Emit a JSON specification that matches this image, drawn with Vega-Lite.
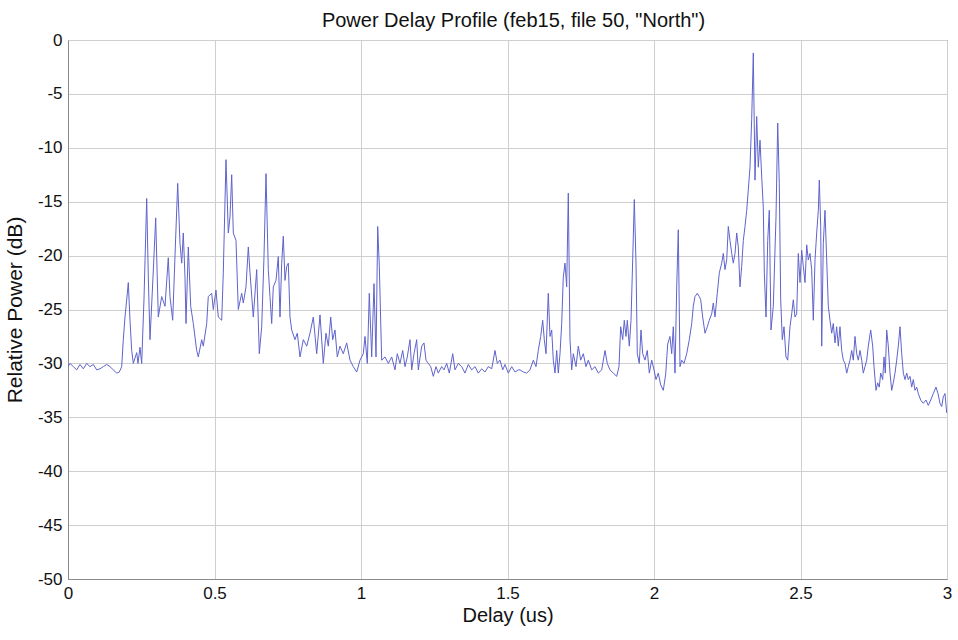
{
  "$schema": "https://vega.github.io/schema/vega-lite/v6.json",
  "width": 879,
  "height": 539,
  "autosize": {"type": "none"},
  "padding": {"left": 68, "top": 40, "right": 11, "bottom": 61},
  "background": "white",
  "title": {
    "text": "Power Delay Profile (feb15, file 50, \"North\")",
    "font": "Liberation Sans",
    "fontSize": 20,
    "fontWeight": "normal",
    "color": "#111111",
    "anchor": "middle",
    "offset": 0,
    "dx": 6
  },
  "config": {
    "view": {"stroke": "#8a8a8a", "strokeWidth": 1},
    "axis": {
      "labelFont": "Liberation Sans",
      "labelFontSize": 17,
      "labelColor": "#111111",
      "titleFont": "Liberation Sans",
      "titleFontSize": 20,
      "titleFontWeight": "normal",
      "titleColor": "#111111",
      "gridColor": "#cfcfcf",
      "gridWidth": 1,
      "domainColor": "#8a8a8a",
      "ticks": false
    }
  },
  "data": {
    "values": [
      {"delay": 0, "power": -30.3}, {"delay": 0.0068, "power": -30.0}, {"delay": 0.0181, "power": -30.3}, {"delay": 0.0297, "power": -30.6},
      {"delay": 0.041, "power": -30.1}, {"delay": 0.0522, "power": -30.5}, {"delay": 0.0638, "power": -30.0}, {"delay": 0.0751, "power": -30.3},
      {"delay": 0.0863, "power": -30.1}, {"delay": 0.098, "power": -30.6}, {"delay": 0.1092, "power": -30.5}, {"delay": 0.1205, "power": -30.3},
      {"delay": 0.1321, "power": -30.1}, {"delay": 0.1433, "power": -30.3}, {"delay": 0.1546, "power": -30.6}, {"delay": 0.1662, "power": -30.9},
      {"delay": 0.1751, "power": -30.8}, {"delay": 0.1833, "power": -30.3}, {"delay": 0.1887, "power": -27.8}, {"delay": 0.1945, "power": -25.7},
      {"delay": 0.2003, "power": -24.1}, {"delay": 0.2058, "power": -22.5}, {"delay": 0.2116, "power": -26.0}, {"delay": 0.2174, "power": -28.8},
      {"delay": 0.2229, "power": -30.0}, {"delay": 0.2345, "power": -29.0}, {"delay": 0.2389, "power": -30.0}, {"delay": 0.2457, "power": -28.5},
      {"delay": 0.2515, "power": -30.0}, {"delay": 0.2594, "power": -24.0}, {"delay": 0.2686, "power": -14.7}, {"delay": 0.2741, "power": -22.0},
      {"delay": 0.2799, "power": -27.8}, {"delay": 0.2901, "power": -22.0}, {"delay": 0.2993, "power": -16.5}, {"delay": 0.3082, "power": -25.7},
      {"delay": 0.3198, "power": -23.8}, {"delay": 0.3311, "power": -24.7}, {"delay": 0.3423, "power": -20.2}, {"delay": 0.3481, "power": -23.8},
      {"delay": 0.3573, "power": -26.0}, {"delay": 0.3652, "power": -20.0}, {"delay": 0.3744, "power": -13.3}, {"delay": 0.3823, "power": -18.9},
      {"delay": 0.3881, "power": -20.7}, {"delay": 0.3935, "power": -17.9}, {"delay": 0.3993, "power": -22.0}, {"delay": 0.4027, "power": -26.3},
      {"delay": 0.4106, "power": -19.2}, {"delay": 0.4188, "power": -24.7}, {"delay": 0.4276, "power": -26.3}, {"delay": 0.4392, "power": -28.8},
      {"delay": 0.4447, "power": -29.4}, {"delay": 0.4563, "power": -27.8}, {"delay": 0.4618, "power": -28.4}, {"delay": 0.4734, "power": -26.3},
      {"delay": 0.4788, "power": -23.8}, {"delay": 0.4904, "power": -23.5}, {"delay": 0.4959, "power": -25.0}, {"delay": 0.5051, "power": -23.2},
      {"delay": 0.513, "power": -25.7}, {"delay": 0.5246, "power": -26.0}, {"delay": 0.53, "power": -21.6}, {"delay": 0.5392, "power": -11.1},
      {"delay": 0.5471, "power": -17.9}, {"delay": 0.5529, "power": -16.4}, {"delay": 0.5587, "power": -12.5}, {"delay": 0.5642, "power": -17.9},
      {"delay": 0.5734, "power": -18.6}, {"delay": 0.5812, "power": -25.0}, {"delay": 0.5928, "power": -23.5}, {"delay": 0.5983, "power": -24.4},
      {"delay": 0.6075, "power": -22.9}, {"delay": 0.6154, "power": -19.2}, {"delay": 0.6212, "power": -21.6}, {"delay": 0.6324, "power": -25.7},
      {"delay": 0.644, "power": -21.3}, {"delay": 0.6529, "power": -29.1}, {"delay": 0.6611, "power": -26.6}, {"delay": 0.6689, "power": -20.1},
      {"delay": 0.6758, "power": -12.4}, {"delay": 0.6836, "power": -21.3}, {"delay": 0.6894, "power": -23.8}, {"delay": 0.6952, "power": -26.3},
      {"delay": 0.7007, "power": -22.9}, {"delay": 0.7099, "power": -22.3}, {"delay": 0.7177, "power": -20.1}, {"delay": 0.7235, "power": -25.7},
      {"delay": 0.7294, "power": -20.7}, {"delay": 0.7348, "power": -18.2}, {"delay": 0.7406, "power": -22.3}, {"delay": 0.7464, "power": -21.0},
      {"delay": 0.7519, "power": -20.7}, {"delay": 0.7577, "power": -25.7}, {"delay": 0.7635, "power": -26.9}, {"delay": 0.7747, "power": -27.8},
      {"delay": 0.7826, "power": -27.2}, {"delay": 0.7918, "power": -29.4}, {"delay": 0.8031, "power": -27.8}, {"delay": 0.8147, "power": -28.4},
      {"delay": 0.8259, "power": -27.2}, {"delay": 0.8372, "power": -25.7}, {"delay": 0.8488, "power": -29.1}, {"delay": 0.8601, "power": -25.5},
      {"delay": 0.8713, "power": -30.0}, {"delay": 0.8805, "power": -27.2}, {"delay": 0.8884, "power": -28.4}, {"delay": 0.8966, "power": -25.7},
      {"delay": 0.9034, "power": -27.8}, {"delay": 0.9113, "power": -26.9}, {"delay": 0.9191, "power": -29.4}, {"delay": 0.9283, "power": -28.4},
      {"delay": 0.9396, "power": -29.1}, {"delay": 0.9512, "power": -28.1}, {"delay": 0.9625, "power": -29.7}, {"delay": 0.9737, "power": -30.3},
      {"delay": 0.9853, "power": -30.8}, {"delay": 0.9966, "power": -29.7}, {"delay": 1.0078, "power": -29.1}, {"delay": 1.0137, "power": -27.5},
      {"delay": 1.0215, "power": -30.0}, {"delay": 1.0283, "power": -23.5}, {"delay": 1.0365, "power": -29.4}, {"delay": 1.0444, "power": -22.6},
      {"delay": 1.0512, "power": -29.4}, {"delay": 1.057, "power": -17.3}, {"delay": 1.0625, "power": -21.0}, {"delay": 1.0706, "power": -29.7},
      {"delay": 1.0819, "power": -29.4}, {"delay": 1.0932, "power": -30.0}, {"delay": 1.1048, "power": -29.4}, {"delay": 1.116, "power": -30.6},
      {"delay": 1.1239, "power": -29.1}, {"delay": 1.1331, "power": -30.0}, {"delay": 1.1423, "power": -28.8}, {"delay": 1.1502, "power": -30.3},
      {"delay": 1.158, "power": -29.4}, {"delay": 1.1672, "power": -27.8}, {"delay": 1.173, "power": -30.6}, {"delay": 1.1809, "power": -29.1},
      {"delay": 1.1901, "power": -27.8}, {"delay": 1.1956, "power": -30.6}, {"delay": 1.2072, "power": -28.4}, {"delay": 1.215, "power": -28.1},
      {"delay": 1.2218, "power": -29.7}, {"delay": 1.2297, "power": -30.0}, {"delay": 1.2379, "power": -30.3}, {"delay": 1.2468, "power": -31.2},
      {"delay": 1.256, "power": -30.3}, {"delay": 1.2638, "power": -30.9}, {"delay": 1.2754, "power": -30.3}, {"delay": 1.2833, "power": -30.6},
      {"delay": 1.2925, "power": -30.0}, {"delay": 1.3014, "power": -30.9}, {"delay": 1.313, "power": -29.1}, {"delay": 1.3208, "power": -30.6},
      {"delay": 1.3321, "power": -30.0}, {"delay": 1.3437, "power": -30.3}, {"delay": 1.3549, "power": -30.9}, {"delay": 1.3662, "power": -30.1},
      {"delay": 1.3778, "power": -30.6}, {"delay": 1.3891, "power": -30.3}, {"delay": 1.4003, "power": -30.9}, {"delay": 1.4119, "power": -30.5},
      {"delay": 1.4232, "power": -30.8}, {"delay": 1.4345, "power": -30.3}, {"delay": 1.4461, "power": -30.5}, {"delay": 1.4573, "power": -28.8},
      {"delay": 1.4652, "power": -30.0}, {"delay": 1.4744, "power": -29.7}, {"delay": 1.4836, "power": -30.6}, {"delay": 1.4915, "power": -30.1},
      {"delay": 1.5027, "power": -30.9}, {"delay": 1.5143, "power": -30.3}, {"delay": 1.5256, "power": -30.8}, {"delay": 1.5369, "power": -30.6},
      {"delay": 1.5427, "power": -30.6}, {"delay": 1.5539, "power": -30.8}, {"delay": 1.5655, "power": -30.9}, {"delay": 1.5768, "power": -30.6},
      {"delay": 1.5881, "power": -29.7}, {"delay": 1.5973, "power": -30.3}, {"delay": 1.6051, "power": -28.8}, {"delay": 1.6133, "power": -27.5},
      {"delay": 1.6201, "power": -26.0}, {"delay": 1.6256, "power": -27.8}, {"delay": 1.6314, "power": -29.1}, {"delay": 1.6392, "power": -23.5},
      {"delay": 1.6451, "power": -27.5}, {"delay": 1.6509, "power": -26.9}, {"delay": 1.6563, "power": -29.7}, {"delay": 1.6621, "power": -30.9},
      {"delay": 1.6679, "power": -28.8}, {"delay": 1.6734, "power": -30.9}, {"delay": 1.6792, "power": -29.1}, {"delay": 1.685, "power": -26.3},
      {"delay": 1.6904, "power": -22.0}, {"delay": 1.6962, "power": -20.7}, {"delay": 1.702, "power": -22.9}, {"delay": 1.7075, "power": -14.2},
      {"delay": 1.7133, "power": -27.8}, {"delay": 1.7191, "power": -30.6}, {"delay": 1.7246, "power": -29.1}, {"delay": 1.7338, "power": -30.3},
      {"delay": 1.7416, "power": -28.4}, {"delay": 1.7498, "power": -29.7}, {"delay": 1.7587, "power": -29.1}, {"delay": 1.7679, "power": -30.3},
      {"delay": 1.7758, "power": -29.7}, {"delay": 1.7874, "power": -30.6}, {"delay": 1.7986, "power": -30.3}, {"delay": 1.8099, "power": -30.9},
      {"delay": 1.8215, "power": -30.6}, {"delay": 1.8328, "power": -28.8}, {"delay": 1.8406, "power": -30.0}, {"delay": 1.8498, "power": -30.6},
      {"delay": 1.8611, "power": -30.9}, {"delay": 1.8727, "power": -31.2}, {"delay": 1.8805, "power": -30.3}, {"delay": 1.8863, "power": -26.6},
      {"delay": 1.8932, "power": -27.8}, {"delay": 1.8986, "power": -26.0}, {"delay": 1.9044, "power": -27.5}, {"delay": 1.9089, "power": -26.0},
      {"delay": 1.9157, "power": -28.4}, {"delay": 1.9215, "power": -26.0}, {"delay": 1.9273, "power": -20.4}, {"delay": 1.9328, "power": -14.8},
      {"delay": 1.9386, "power": -20.7}, {"delay": 1.943, "power": -29.1}, {"delay": 1.9498, "power": -30.0}, {"delay": 1.9556, "power": -26.9},
      {"delay": 1.9614, "power": -29.1}, {"delay": 1.9693, "power": -29.7}, {"delay": 1.9771, "power": -28.8}, {"delay": 1.984, "power": -30.9},
      {"delay": 1.9922, "power": -29.7}, {"delay": 2.0, "power": -30.6}, {"delay": 2.0068, "power": -31.5}, {"delay": 2.0147, "power": -30.9},
      {"delay": 2.0229, "power": -32.0}, {"delay": 2.0317, "power": -32.5}, {"delay": 2.0399, "power": -31.0}, {"delay": 2.0468, "power": -28.2},
      {"delay": 2.0546, "power": -27.5}, {"delay": 2.0604, "power": -29.1}, {"delay": 2.0659, "power": -26.6}, {"delay": 2.0717, "power": -30.9},
      {"delay": 2.0775, "power": -22.9}, {"delay": 2.0829, "power": -17.6}, {"delay": 2.0887, "power": -30.3}, {"delay": 2.0945, "power": -29.7},
      {"delay": 2.1024, "power": -30.0}, {"delay": 2.1116, "power": -29.1}, {"delay": 2.1205, "power": -27.8}, {"delay": 2.1287, "power": -26.3},
      {"delay": 2.1341, "power": -24.7}, {"delay": 2.1399, "power": -23.8}, {"delay": 2.1478, "power": -23.5}, {"delay": 2.1546, "power": -23.8},
      {"delay": 2.1594, "power": -24.1}, {"delay": 2.1662, "power": -25.7}, {"delay": 2.1741, "power": -27.2}, {"delay": 2.1819, "power": -26.6},
      {"delay": 2.1887, "power": -26.0}, {"delay": 2.1969, "power": -25.4}, {"delay": 2.2024, "power": -24.4}, {"delay": 2.2082, "power": -25.7},
      {"delay": 2.216, "power": -23.5}, {"delay": 2.2229, "power": -21.6}, {"delay": 2.2311, "power": -20.7}, {"delay": 2.2365, "power": -19.8},
      {"delay": 2.2423, "power": -21.3}, {"delay": 2.2481, "power": -20.4}, {"delay": 2.2536, "power": -17.3}, {"delay": 2.2594, "power": -18.6},
      {"delay": 2.2652, "power": -19.8}, {"delay": 2.2706, "power": -20.7}, {"delay": 2.2765, "power": -19.8}, {"delay": 2.2823, "power": -17.9},
      {"delay": 2.2877, "power": -19.2}, {"delay": 2.2935, "power": -22.9}, {"delay": 2.2993, "power": -21.0}, {"delay": 2.3048, "power": -18.6},
      {"delay": 2.3106, "power": -17.3}, {"delay": 2.3164, "power": -15.8}, {"delay": 2.3218, "power": -13.9}, {"delay": 2.3276, "power": -11.8},
      {"delay": 2.3334, "power": -7.4}, {"delay": 2.3389, "power": -1.2}, {"delay": 2.3447, "power": -13.0}, {"delay": 2.3505, "power": -7.1},
      {"delay": 2.356, "power": -11.8}, {"delay": 2.3618, "power": -9.3}, {"delay": 2.3676, "power": -12.7}, {"delay": 2.373, "power": -15.5},
      {"delay": 2.3765, "power": -21.6}, {"delay": 2.3823, "power": -25.7}, {"delay": 2.3881, "power": -18.6}, {"delay": 2.3935, "power": -15.8},
      {"delay": 2.3993, "power": -26.9}, {"delay": 2.4072, "power": -24.7}, {"delay": 2.4164, "power": -16.4}, {"delay": 2.4222, "power": -7.7},
      {"delay": 2.4276, "power": -13.3}, {"delay": 2.4324, "power": -24.1}, {"delay": 2.4379, "power": -27.8}, {"delay": 2.4437, "power": -26.6},
      {"delay": 2.4505, "power": -29.4}, {"delay": 2.4563, "power": -29.7}, {"delay": 2.4642, "power": -26.6}, {"delay": 2.47, "power": -25.4},
      {"delay": 2.4754, "power": -24.1}, {"delay": 2.4812, "power": -25.7}, {"delay": 2.487, "power": -25.4}, {"delay": 2.4925, "power": -19.8},
      {"delay": 2.4983, "power": -22.5}, {"delay": 2.5041, "power": -19.5}, {"delay": 2.5096, "power": -21.0}, {"delay": 2.5154, "power": -22.5},
      {"delay": 2.5212, "power": -19.0}, {"delay": 2.5266, "power": -20.4}, {"delay": 2.5324, "power": -19.8}, {"delay": 2.5382, "power": -21.3},
      {"delay": 2.5437, "power": -26.0}, {"delay": 2.5495, "power": -20.4}, {"delay": 2.5553, "power": -17.9}, {"delay": 2.5608, "power": -15.8},
      {"delay": 2.5642, "power": -13.0}, {"delay": 2.569, "power": -17.3}, {"delay": 2.5724, "power": -28.4}, {"delay": 2.5778, "power": -18.9},
      {"delay": 2.5836, "power": -15.8}, {"delay": 2.5894, "power": -20.4}, {"delay": 2.5949, "power": -24.7}, {"delay": 2.6007, "power": -26.0},
      {"delay": 2.6065, "power": -27.2}, {"delay": 2.6119, "power": -26.3}, {"delay": 2.6177, "power": -28.1}, {"delay": 2.6235, "power": -26.6},
      {"delay": 2.629, "power": -28.4}, {"delay": 2.6348, "power": -26.6}, {"delay": 2.6406, "power": -28.8}, {"delay": 2.6461, "power": -29.7},
      {"delay": 2.6519, "power": -30.0}, {"delay": 2.6577, "power": -30.9}, {"delay": 2.6631, "power": -30.3}, {"delay": 2.6689, "power": -29.7},
      {"delay": 2.6747, "power": -28.8}, {"delay": 2.6802, "power": -29.7}, {"delay": 2.686, "power": -27.5}, {"delay": 2.6918, "power": -29.1},
      {"delay": 2.6973, "power": -29.7}, {"delay": 2.7031, "power": -28.8}, {"delay": 2.7089, "power": -29.7}, {"delay": 2.7143, "power": -30.9},
      {"delay": 2.7201, "power": -30.3}, {"delay": 2.7259, "power": -29.7}, {"delay": 2.7314, "power": -28.4}, {"delay": 2.7396, "power": -26.9},
      {"delay": 2.7464, "power": -28.4}, {"delay": 2.7509, "power": -30.3}, {"delay": 2.7577, "power": -32.5}, {"delay": 2.7635, "power": -31.8},
      {"delay": 2.7689, "power": -32.2}, {"delay": 2.7737, "power": -30.9}, {"delay": 2.7805, "power": -31.5}, {"delay": 2.785, "power": -29.4},
      {"delay": 2.7894, "power": -30.9}, {"delay": 2.7942, "power": -26.9}, {"delay": 2.7997, "power": -28.4}, {"delay": 2.8055, "power": -30.9},
      {"delay": 2.8113, "power": -32.5}, {"delay": 2.8167, "power": -31.8}, {"delay": 2.8225, "power": -30.9}, {"delay": 2.8283, "power": -29.7},
      {"delay": 2.8338, "power": -28.4}, {"delay": 2.8396, "power": -26.6}, {"delay": 2.8454, "power": -29.1}, {"delay": 2.8509, "power": -30.9},
      {"delay": 2.8567, "power": -31.5}, {"delay": 2.8625, "power": -30.9}, {"delay": 2.8679, "power": -31.5}, {"delay": 2.8737, "power": -31.2},
      {"delay": 2.8795, "power": -32.2}, {"delay": 2.885, "power": -31.5}, {"delay": 2.8908, "power": -32.5}, {"delay": 2.8966, "power": -32.2},
      {"delay": 2.902, "power": -32.8}, {"delay": 2.9102, "power": -33.4}, {"delay": 2.9191, "power": -33.7}, {"delay": 2.9283, "power": -33.4},
      {"delay": 2.9362, "power": -33.9}, {"delay": 2.9444, "power": -33.4}, {"delay": 2.9532, "power": -32.8}, {"delay": 2.9625, "power": -32.2},
      {"delay": 2.9693, "power": -32.8}, {"delay": 2.9761, "power": -33.7}, {"delay": 2.9819, "power": -34.0}, {"delay": 2.9874, "power": -33.1},
      {"delay": 2.9932, "power": -32.8}, {"delay": 2.999, "power": -34.6}
    ]
  },
  "mark": {"type": "line", "color": "#5f63cc", "strokeWidth": 1, "clip": true},
  "encoding": {
    "x": {
      "field": "delay",
      "type": "quantitative",
      "title": "Delay (us)",
      "scale": {"domain": [0, 3], "nice": false, "zero": false},
      "axis": {
        "values": [0, 0.5, 1, 1.5, 2, 2.5, 3],
        "labelExpr": "toString(datum.value)",
        "labelPadding": 6,
        "titlePadding": 4,
        "labelFlush": false
      }
    },
    "y": {
      "field": "power",
      "type": "quantitative",
      "title": "Relative Power (dB)",
      "scale": {"domain": [-50, 0], "nice": false, "zero": false},
      "axis": {
        "values": [0, -5, -10, -15, -20, -25, -30, -35, -40, -45, -50],
        "labelExpr": "toString(datum.value)",
        "labelPadding": 6,
        "titleFontSize": 21,
        "titleX": -53,
        "titleY": 269.5,
        "titleAngle": 270,
        "titleAlign": "center",
        "titleBaseline": "middle"
      }
    }
  }
}
